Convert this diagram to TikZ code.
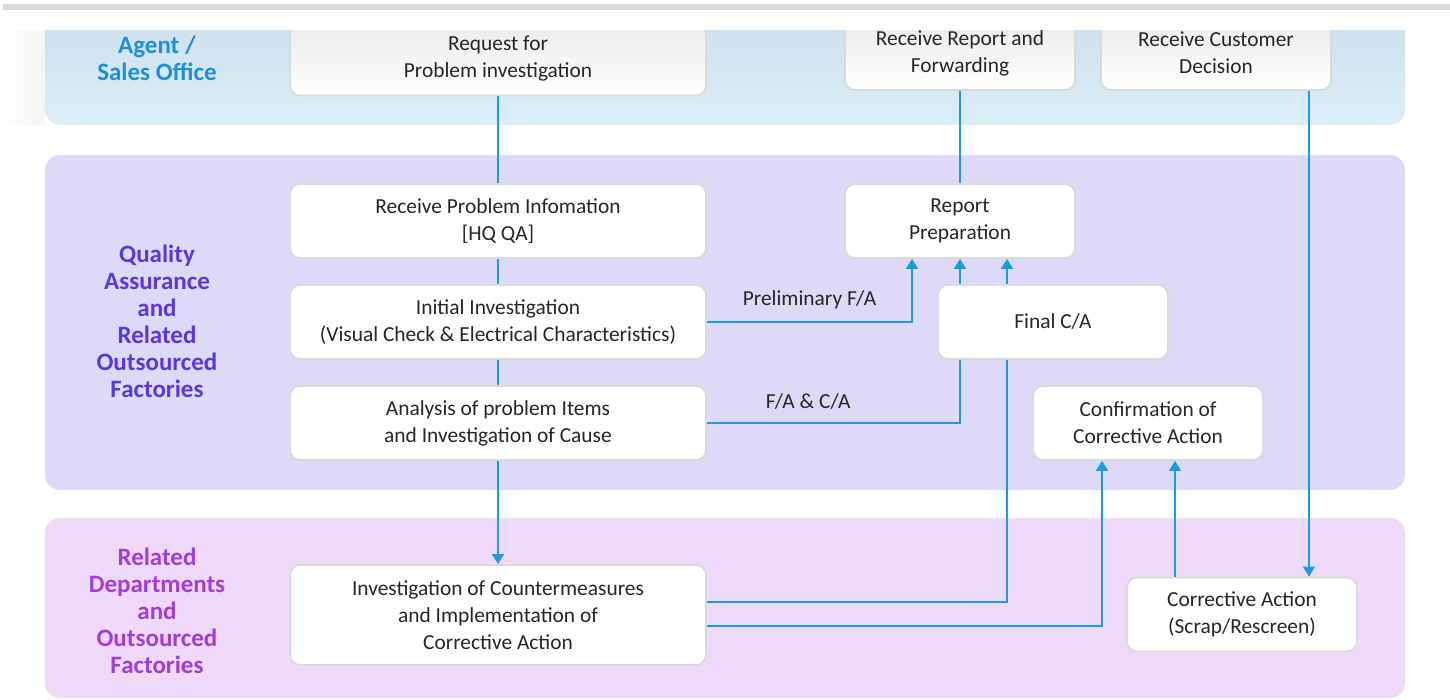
\documentclass[tikz,border=0pt]{standalone}
\usepackage{fontspec}
\setmainfont{Carlito}
\usetikzlibrary{arrows.meta, positioning, calc}
\definecolor{linkblue}{HTML}{1A9BE6}
\definecolor{txt}{HTML}{262626}
\definecolor{laneA}{HTML}{DCEEF8}
\definecolor{laneAtop}{HTML}{C9DFEA}
\definecolor{laneB}{HTML}{DCDAF7}
\definecolor{laneC}{HTML}{EEDAF8}
\definecolor{headA}{HTML}{1E8FDC}
\definecolor{headB}{HTML}{5B36E4}
\definecolor{headC}{HTML}{A23BE2}
\definecolor{boxedge}{HTML}{DADADA}

\begin{document}
\begin{tikzpicture}[x=0.5pt, y=-0.5pt,
    every node/.style={font=\fontsize{10.7}{13.5}\selectfont, text=txt},
    task/.style={rectangle, draw=boxedge, line width=0.9pt, fill=white, rounded corners=5pt,
                 minimum width=208pt, minimum height=37pt, align=center, inner sep=0pt},
    small/.style={task, minimum width=115pt},
    faded/.style={top color=black!8, bottom color=white},
    lane/.style={rounded corners=7.5pt},
    head/.style={font=\fontsize{12.5}{13.5}\selectfont\bfseries, align=center},
    link/.style={draw=linkblue, line width=0.8pt},
    flow/.style={link, -{Triangle[length=5pt, width=6pt]}},
    lbl/.style={font=\fontsize{10.7}{13.5}\selectfont}
]
\useasboundingbox (0,0) rectangle (1450,700);

% lanes
\shade[left color=white, right color=black!4] (0,30) rectangle (45,125);
\shade[lane, top color=laneAtop, bottom color=laneA] (45,0) rectangle (1405,125);
\fill[lane, laneB] (45,155) rectangle (1405,490);
\fill[lane, laneC] (45,518) rectangle (1405,698);

\node[head, text=headA] (hA) at (157,58.5) {Agent /\\Sales Office};
\node[head, text=headB] (hB) at (157,321.5) {Quality\\Assurance\\and\\Related\\Outsourced\\Factories};
\node[head, text=headC] (hC) at (157,611) {Related\\Departments\\and\\Outsourced\\Factories};

% boxes
\node[task, faded] (req) at (498,58.5) {Request for\\Problem investigation};
\node[small, faded] (fwd) at (960,53) {Receive Report and\\Forwarding};
\node[small, faded] (cust) at (1216,53) {Receive Customer\\Decision};

\node[task] (recv) at (498,221) {Receive Problem Infomation\\{[HQ QA]}};
\node[task] (init) at (498,322) {Initial Investigation\\(Visual Check \& Electrical Characteristics)};
\node[task] (ana) at (498,423) {Analysis of problem Items\\and Investigation of Cause};
\node[small] (prep) at (960,221) {Report\\Preparation};
\node[small] (final) at (1053,322) {Final C/A};
\node[small] (conf) at (1148,423) {Confirmation of\\Corrective Action};
\node[task, minimum height=50pt] (inv) at (498,615) {Investigation of Countermeasures\\and Implementation of\\Corrective Action};
\node[small] (corr) at (1242,614.5) {Corrective Action\\(Scrap/Rescreen)};

% connectors
\draw[link] (req.south) -- (recv.north);
\draw[link] (recv.south) -- (init.north);
\draw[link] (init.south) -- (ana.north);
\draw[flow] (ana.south) -- (inv.north);
\draw[link] (fwd.south) -- (prep.north);
\draw[flow] (init.east) -| node[pos=0.25, above=3pt, lbl] {Preliminary F/A} ($(prep.south)+(-48,0)$);
\draw[link] (ana.east) -| node[pos=0.2, above=3pt, lbl] {F/A \& C/A} ($(final.south)+(-93,0)$);
\draw[flow] ($(final.north)+(-93,0)$) -- (prep.south);
\draw[link] ($(inv.east)+(0,-13)$) -| ($(final.south)+(-46,0)$);
\draw[flow] ($(final.north)+(-46,0)$) -- ($(prep.south)+(47,0)$);
\draw[flow] ($(inv.east)+(0,11)$) -| ($(conf.south)+(-46,0)$);
\draw[flow] ($(corr.north)+(-67,0)$) -- ($(conf.south)+(27,0)$);
\draw[flow] ($(cust.south)+(93,0)$) -- ($(corr.north)+(67,0)$);

% cut-off top edge
\fill[white] (0,0) rectangle (1450,30);
\fill[black!15] (3,4) rectangle (1450,10);
\end{tikzpicture}
\end{document}
